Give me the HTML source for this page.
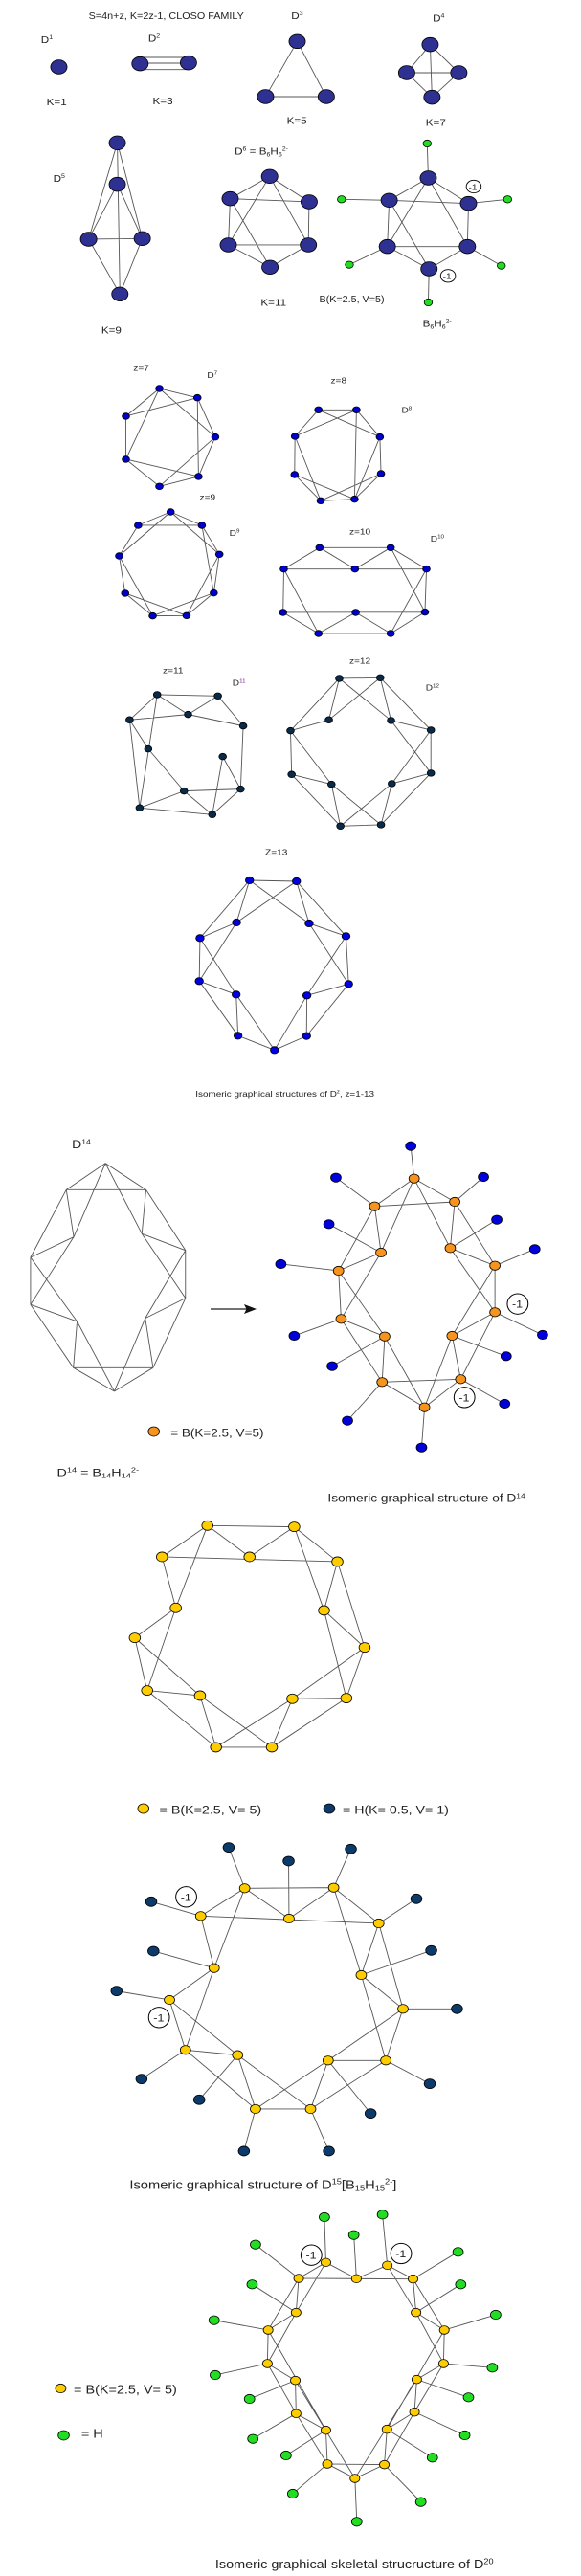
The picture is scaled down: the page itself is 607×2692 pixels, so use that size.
<!DOCTYPE html>
<html><head><meta charset="utf-8"><style>
html,body{margin:0;padding:0;background:#fff;}
svg{display:block;}
circle,path,ellipse{vector-effect:non-scaling-stroke;}
text{font-family:"Liberation Sans",sans-serif;fill:#222;}
.e{fill:none;stroke:#555;stroke-width:0.9;}
.n{stroke:#000;stroke-width:0.8;}
</style></head><body>
<svg width="607" height="2692" viewBox="0 0 607 2692" xmlns="http://www.w3.org/2000/svg">

<!-- CROP 1 -->
<g transform="translate(0,0) scale(0.3891,0.3333)">
<text x="238" y="60" font-size="30" textLength="417" lengthAdjust="spacingAndGlyphs">S=4n+z, K=2z-1, CLOSO FAMILY</text>
<text x="110" y="135" font-size="30">D<tspan font-size="18" dy="-12">1</tspan></text>
<text x="398" y="130" font-size="30">D<tspan font-size="18" dy="-12">2</tspan></text>
<text x="782" y="60" font-size="30">D<tspan font-size="18" dy="-12">3</tspan></text>
<text x="1162" y="68" font-size="30">D<tspan font-size="18" dy="-12">4</tspan></text>
<text x="143" y="570" font-size="30">D<tspan font-size="18" dy="-12">5</tspan></text>
<text x="630" y="485" font-size="30">D<tspan font-size="18" dy="-12">6</tspan><tspan dy="12"> = B</tspan><tspan font-size="18" dy="6">6</tspan><tspan dy="-6">H</tspan><tspan font-size="18" dy="6">6</tspan><tspan font-size="18" dy="-18">2-</tspan></text>
<text x="125" y="330" font-size="30">K=1</text>
<text x="410" y="327" font-size="30">K=3</text>
<text x="770" y="388" font-size="30">K=5</text>
<text x="1143" y="395" font-size="30">K=7</text>
<text x="272" y="1045" font-size="30">K=9</text>
<text x="700" y="958" font-size="30">K=11</text>
<text x="857" y="948" font-size="30" textLength="175" lengthAdjust="spacingAndGlyphs">B(K=2.5, V=5)</text>
<text x="1135" y="1025" font-size="30">B<tspan font-size="18" dy="6">6</tspan><tspan dy="-6">H</tspan><tspan font-size="18" dy="6">6</tspan><tspan font-size="18" dy="-18">2-</tspan></text>
<ellipse cx="1272" cy="585" rx="20" ry="20" fill="#fff" stroke="#000" stroke-width="0.9"/>
<text x="1258" y="595" font-size="26">-1</text>
<ellipse cx="1203" cy="865" rx="20" ry="20" fill="#fff" stroke="#000" stroke-width="0.9"/>
<text x="1189" y="875" font-size="26">-1</text>
<path class="e" d="M376 180L506 180M376 198L506 198M376 218L506 218
M798 130L713 303L876 303Z
M1155 140L1092 228L1160 305L1232 228Z M1092 228L1232 228 M1155 140L1160 305
M315 448L238 750M315 448L382 748M315 448L322 922M315 578L238 750M315 578L382 748M238 750L382 748M238 750L322 922M382 748L322 922
M724 553L618 623L613 768L725 838L828 768L830 633Z M618 623L830 633M613 768L828 768M724 553L613 768M724 553L828 768M618 623L725 838
M1150 558L1045 628L1040 773L1152 843L1255 773L1258 638Z M1045 628L1258 638M1040 773L1255 773M1150 558L1040 773M1150 558L1255 773M1045 628L1152 843
M1150 558L1147 450M1045 628L917 625M1258 638L1363 625M1040 773L938 830M1255 773L1346 833M1152 843L1150 948"/>
<g class="n" fill="#2e3192">
<circle cx="158" cy="210" r="22"/><circle cx="376" cy="200" r="22"/><circle cx="506" cy="197" r="22"/>
<circle cx="798" cy="130" r="22"/><circle cx="713" cy="303" r="22"/><circle cx="876" cy="303" r="22"/>
<circle cx="1155" cy="140" r="22"/><circle cx="1092" cy="228" r="22"/><circle cx="1232" cy="228" r="22"/><circle cx="1160" cy="305" r="22"/>
<circle cx="315" cy="448" r="22"/><circle cx="315" cy="578" r="22"/><circle cx="238" cy="750" r="22"/><circle cx="382" cy="748" r="22"/><circle cx="322" cy="922" r="22"/>
<circle cx="724" cy="553" r="22"/><circle cx="618" cy="623" r="22"/><circle cx="830" cy="633" r="22"/><circle cx="613" cy="768" r="22"/><circle cx="828" cy="768" r="22"/><circle cx="725" cy="838" r="22"/>
<circle cx="1150" cy="558" r="22"/><circle cx="1045" cy="628" r="22"/><circle cx="1258" cy="638" r="22"/><circle cx="1040" cy="773" r="22"/><circle cx="1255" cy="773" r="22"/><circle cx="1152" cy="843" r="22"/>
</g>
<g class="n" fill="#22dd22">
<circle cx="1147" cy="450" r="11"/><circle cx="917" cy="625" r="11"/><circle cx="1363" cy="625" r="11"/><circle cx="938" cy="830" r="11"/><circle cx="1346" cy="833" r="11"/><circle cx="1150" cy="948" r="11"/>
</g>
</g>

<!-- CROP 2 -->
<g transform="translate(0,350) scale(0.3891,0.3333)">
<g font-size="26">
<text x="358" y="112">z=7</text><text x="556" y="135">D<tspan font-size="16" dy="-10">7</tspan></text>
<text x="888" y="152">z=8</text><text x="1078" y="245">D<tspan font-size="16" dy="-10">8</tspan></text>
<text x="536" y="518">z=9</text><text x="616" y="630">D<tspan font-size="16" dy="-10">9</tspan></text>
<text x="938" y="626">z=10</text><text x="1156" y="648">D<tspan font-size="16" dy="-10">10</tspan></text>
<text x="437" y="1060">z=11</text><text x="624" y="1100">D<tspan font-size="16" dy="-10" fill="#6a1a8a">11</tspan></text>
<text x="938" y="1030">z=12</text><text x="1143" y="1115">D<tspan font-size="16" dy="-10">12</tspan></text>
</g>
<path class="e" d="M428 168L530 197M428 168L338 255M338 255L530 197M428 168L578 320M428 168L338 390M530 197L533 444M338 255L338 390M338 390L428 475M428 475L533 444M338 390L533 444M578 320L428 475M578 320L533 444M530 197L578 320
M855 235L957 235M855 235L792 318M957 235L1020 320M792 318L791 438M1020 320L1023 435M791 438L861 520M1023 435L952 515M861 520L952 515M855 235L1020 320M957 235L792 318M792 318L861 520M957 235L952 515M791 438L952 515M1023 435L861 520M1020 320L952 515
M458 555L371 597M458 555L542 597M371 597L320 693M542 597L589 688M320 693L336 810M589 688L574 809M336 810L410 881M574 809L501 880M410 881L501 880M371 597L542 597M458 555L320 693M458 555L589 688M542 597L574 809M320 693L410 881M589 688L501 880M336 810L501 880M574 809L410 881
M858 667L1049 667M858 667L762 734M858 667L953 734L1049 667M1049 667L1145 734M762 734L1145 734M762 734L760 870M1145 734L1141 869M760 870L1141 869M760 870L855 936L955 870L1049 936L1141 869M855 936L1049 936M762 734L855 936M1049 667L1141 869M1145 734L1049 936
M422 1128L585 1132M422 1128L348 1207M422 1128L505 1190L585 1132M348 1207L505 1190L653 1226M585 1132L653 1226M422 1128L375 1483M348 1207L398 1298M348 1207L375 1483M398 1298L494 1430M653 1226L646 1424M598 1322L646 1424M598 1322L570 1504M494 1430L646 1424M494 1430L375 1483M494 1430L570 1504M375 1483L570 1504M646 1424L570 1504
M911 1077L1021 1075M911 1077L883 1207M1021 1075L883 1207M911 1077L1050 1209M1021 1075L1050 1209M911 1077L780 1241M883 1207L780 1241M1021 1075L1157 1239M1050 1209L1157 1239M780 1241L783 1378M1157 1239L1157 1374M780 1241L890 1409M1050 1209L1157 1374M1157 1239L1052 1407M783 1378L890 1409M1157 1374L1052 1407M783 1378L914 1540M890 1409L914 1540M1052 1407L1023 1536M1157 1374L1023 1536M890 1409L1023 1536M1052 1407L914 1540M914 1540L1023 1536"/>
<g class="n" fill="#0000cc">
<circle cx="428" cy="168" r="10"/><circle cx="530" cy="197" r="10"/><circle cx="338" cy="255" r="10"/><circle cx="578" cy="320" r="10"/><circle cx="338" cy="390" r="10"/><circle cx="533" cy="444" r="10"/><circle cx="428" cy="475" r="10"/>
<circle cx="855" cy="235" r="10"/><circle cx="957" cy="235" r="10"/><circle cx="792" cy="318" r="10"/><circle cx="1020" cy="320" r="10"/><circle cx="791" cy="438" r="10"/><circle cx="1023" cy="435" r="10"/><circle cx="861" cy="520" r="10"/><circle cx="952" cy="515" r="10"/>
<circle cx="458" cy="555" r="10"/><circle cx="371" cy="597" r="10"/><circle cx="542" cy="597" r="10"/><circle cx="320" cy="693" r="10"/><circle cx="589" cy="688" r="10"/><circle cx="336" cy="810" r="10"/><circle cx="574" cy="809" r="10"/><circle cx="410" cy="881" r="10"/><circle cx="501" cy="880" r="10"/>
<circle cx="858" cy="667" r="10"/><circle cx="1049" cy="667" r="10"/><circle cx="762" cy="734" r="10"/><circle cx="953" cy="734" r="10"/><circle cx="1145" cy="734" r="10"/><circle cx="760" cy="870" r="10"/><circle cx="955" cy="870" r="10"/><circle cx="1141" cy="869" r="10"/><circle cx="855" cy="936" r="10"/><circle cx="1049" cy="936" r="10"/>
</g>
<g class="n" fill="#0a2a4a">
<circle cx="422" cy="1128" r="10"/><circle cx="585" cy="1132" r="10"/><circle cx="348" cy="1207" r="10"/><circle cx="505" cy="1190" r="10"/><circle cx="653" cy="1226" r="10"/><circle cx="398" cy="1298" r="10"/><circle cx="598" cy="1322" r="10"/><circle cx="494" cy="1430" r="10"/><circle cx="646" cy="1424" r="10"/><circle cx="375" cy="1483" r="10"/><circle cx="570" cy="1504" r="10"/>
<circle cx="911" cy="1077" r="10"/><circle cx="1021" cy="1075" r="10"/><circle cx="883" cy="1207" r="10"/><circle cx="1050" cy="1209" r="10"/><circle cx="780" cy="1241" r="10"/><circle cx="1157" cy="1239" r="10"/><circle cx="783" cy="1378" r="10"/><circle cx="1157" cy="1374" r="10"/><circle cx="890" cy="1409" r="10"/><circle cx="1052" cy="1407" r="10"/><circle cx="914" cy="1540" r="10"/><circle cx="1023" cy="1536" r="10"/>
</g>
</g>

<!-- CROP 3 -->
<g transform="translate(0,800) scale(0.3891,0.3333)">
<text x="712" y="280" font-size="26">Z=13</text>
<text x="525" y="1038" font-size="26" textLength="480" lengthAdjust="spacingAndGlyphs">Isomeric graphical structures of D<tspan font-size="16" dy="-10">z</tspan><tspan dy="10">, z=1-13</tspan></text>
<text x="193" y="1200" font-size="36">D<tspan font-size="22" dy="-14">14</tspan></text>
<path class="e" d="M670 360L796 363M670 360L537 541M670 360L635 492M670 360L830 495M796 363L635 492M796 363L830 495M796 363L929 535M635 492L537 541M635 492L535 676M830 495L929 535M830 495L936 685M537 541L535 676M537 541L634 718M929 535L936 685M929 535L824 721M535 676L634 718M535 676L639 847M936 685L824 721M936 685L823 848M634 718L639 847M634 718L737 892M824 721L823 848M824 721L737 892M639 847L737 892M823 848L737 892"/>
<g class="n" fill="#0000e0">
<circle cx="670" cy="360" r="11"/><circle cx="796" cy="363" r="11"/><circle cx="635" cy="492" r="11"/><circle cx="830" cy="495" r="11"/><circle cx="537" cy="541" r="11"/><circle cx="929" cy="535" r="11"/><circle cx="535" cy="676" r="11"/><circle cx="936" cy="685" r="11"/><circle cx="634" cy="718" r="11"/><circle cx="824" cy="721" r="11"/><circle cx="639" cy="847" r="11"/><circle cx="823" cy="848" r="11"/><circle cx="737" cy="892" r="11"/>
</g>
</g>

<!-- arrow (original coords) -->
<line x1="220" y1="1368" x2="258" y2="1368" stroke="#444" stroke-width="1.6"/>
<path d="M268 1368L255 1363L257.5 1368L255 1373Z" fill="#111"/>

<!-- CROP 4 -->
<g transform="translate(0,1200) scale(0.3891,0.3333)">
<path class="e" stroke="#777" d="M283 47L178 130M283 47L392 130M178 130L392 130M283 47L198 278M283 47L381 268M178 130L198 278M392 130L381 268M178 130L82 342M392 130L498 320M198 278L82 342M381 268L498 320M82 342L82 490M498 320L498 470M198 278L82 490M82 342L207 543M381 268L498 470M498 320L390 533M82 490L207 543M498 470L390 533M82 490L197 688M498 470L411 688M207 543L197 688M390 533L411 688M207 543L307 762M390 533L307 762M197 688L411 688M197 688L307 762M411 688L307 762"/>
<path class="e" d="M1112 95L1006 182M1112 95L1221 168M1006 182L1221 168M1112 95L1023 327M1112 95L1209 313M1006 182L1023 327M1221 168L1209 313M1006 182L909 384M1221 168L1329 368M1023 327L909 384M1209 313L1329 368M909 384L916 535M1329 368L1329 514M1023 327L916 535M909 384L1033 590M1209 313L1329 514M1329 368L1214 588M916 535L1033 590M1329 514L1214 588M916 535L1026 733M1329 514L1237 724M1033 590L1026 733M1214 588L1237 724M1033 590L1140 812M1214 588L1140 812M1026 733L1237 724M1026 733L1140 812M1237 724L1140 812
M1112 95L1103 -7M1006 182L902 92M1221 168L1298 90M1023 327L883 238M1209 313L1334 224M909 384L754 363M1329 368L1436 316M916 535L790 588M1329 514L1457 585M1033 590L892 683M1214 588L1359 652M1026 733L933 854M1237 724L1355 801M1140 812L1132 938"/>
<g class="n" fill="#0000dd">
<circle cx="1103" cy="-7" r="14"/><circle cx="902" cy="92" r="14"/><circle cx="1298" cy="90" r="14"/><circle cx="883" cy="238" r="14"/><circle cx="1334" cy="224" r="14"/><circle cx="754" cy="363" r="14"/><circle cx="1436" cy="316" r="14"/><circle cx="790" cy="588" r="14"/><circle cx="1457" cy="585" r="14"/><circle cx="892" cy="683" r="14"/><circle cx="1359" cy="652" r="14"/><circle cx="933" cy="854" r="14"/><circle cx="1355" cy="801" r="14"/><circle cx="1132" cy="938" r="14"/>
</g>
<g class="n" fill="#f7941d">
<circle cx="1112" cy="95" r="14"/><circle cx="1006" cy="182" r="14"/><circle cx="1221" cy="168" r="14"/><circle cx="1023" cy="327" r="14"/><circle cx="1209" cy="313" r="14"/><circle cx="909" cy="384" r="14"/><circle cx="1329" cy="368" r="14"/><circle cx="916" cy="535" r="14"/><circle cx="1329" cy="514" r="14"/><circle cx="1033" cy="590" r="14"/><circle cx="1214" cy="588" r="14"/><circle cx="1026" cy="733" r="14"/><circle cx="1237" cy="724" r="14"/><circle cx="1140" cy="812" r="14"/>
<circle cx="413" cy="888" r="15"/>
</g>
<ellipse cx="1390" cy="488" rx="28" ry="32" fill="#fff" stroke="#000" stroke-width="1"/>
<text x="1375" y="500" font-size="32">-1</text>
<ellipse cx="1247" cy="781" rx="28" ry="32" fill="#fff" stroke="#000" stroke-width="1"/>
<text x="1232" y="793" font-size="32">-1</text>
<text x="458" y="905" font-size="36" textLength="250" lengthAdjust="spacingAndGlyphs">= B(K=2.5, V=5)</text>
<text x="153" y="1028" font-size="34" textLength="220" lengthAdjust="spacingAndGlyphs">D<tspan font-size="22" dy="-12">14</tspan><tspan dy="12"> = B</tspan><tspan font-size="22" dy="6">14</tspan><tspan dy="-6">H</tspan><tspan font-size="22" dy="6">14</tspan><tspan font-size="22" dy="-18">2-</tspan></text>
<text x="880" y="1108" font-size="36" textLength="530" lengthAdjust="spacingAndGlyphs">Isomeric graphical structure of D<tspan font-size="22" dy="-12">14</tspan></text>
<path class="e" stroke="#333" d="M557 1183L790 1187M557 1183L435 1281M557 1183L670 1281L790 1187M790 1187L906 1296M435 1281L906 1296M557 1183L472 1441M435 1281L472 1441M790 1187L870 1449M906 1296L870 1449M906 1296L979 1565M472 1441L362 1535M472 1441L395 1700M362 1535L395 1700M362 1535L537 1716M870 1449L979 1565M870 1449L930 1724M979 1565L930 1724M979 1565L785 1726M395 1700L537 1716M395 1700L580 1878M537 1716L580 1878M537 1716L730 1878M785 1726L930 1724M785 1726L580 1878M785 1726L730 1878M930 1724L730 1878M580 1878L730 1878"/>
<g class="n" fill="#ffcc00">
<circle cx="557" cy="1183" r="15"/><circle cx="790" cy="1187" r="15"/><circle cx="435" cy="1281" r="15"/><circle cx="670" cy="1281" r="15"/><circle cx="906" cy="1296" r="15"/><circle cx="472" cy="1441" r="15"/><circle cx="870" cy="1449" r="15"/><circle cx="362" cy="1535" r="15"/><circle cx="979" cy="1565" r="15"/><circle cx="395" cy="1700" r="15"/><circle cx="537" cy="1716" r="15"/><circle cx="785" cy="1726" r="15"/><circle cx="930" cy="1724" r="15"/><circle cx="580" cy="1878" r="15"/><circle cx="730" cy="1878" r="15"/>
</g>
</g>

<!-- CROP 5 -->
<g transform="translate(0,1680) scale(0.3891,0.3333)">
<circle class="n" cx="385" cy="630" r="15" fill="#ffcc00"/>
<text x="428" y="647" font-size="36" textLength="274" lengthAdjust="spacingAndGlyphs">= B(K=2.5, V= 5)</text>
<circle class="n" cx="884" cy="630" r="15" fill="#0b3a6b"/>
<text x="920" y="647" font-size="36" textLength="285" lengthAdjust="spacingAndGlyphs">= H(K= 0.5, V= 1)</text>
<path class="e" stroke="#333" d="M657 880L896 878M657 880L539 967M657 880L776 975L896 878M896 878L1017 990M539 967L1017 990M657 880L575 1130M539 967L575 1130M896 878L970 1152M1017 990L970 1152M1017 990L1082 1258M575 1130L455 1230M575 1130L498 1387M455 1230L498 1387M455 1230L638 1403M970 1152L1082 1258M970 1152L1036 1420M1082 1258L1036 1420M1082 1258L881 1420M498 1387L638 1403M498 1387L686 1572M638 1403L686 1572M638 1403L834 1572M881 1420L1036 1420M881 1420L686 1572M881 1420L834 1572M1036 1420L834 1572M686 1572L834 1572
M657 880L614 752M776 975L775 795M896 878L942 757M539 967L406 922M1017 990L1118 913M575 1130L412 1077M970 1152L1158 1075M455 1230L313 1202M1082 1258L1227 1258M498 1387L380 1478M638 1403L535 1543M1036 1420L1154 1493M686 1572L655 1704M834 1572L883 1704M881 1420L995 1586"/>
<g class="n" fill="#0b3a6b">
<circle cx="614" cy="752" r="15"/><circle cx="775" cy="795" r="15"/><circle cx="942" cy="757" r="15"/><circle cx="406" cy="922" r="15"/><circle cx="1118" cy="913" r="15"/><circle cx="412" cy="1077" r="15"/><circle cx="1158" cy="1075" r="15"/><circle cx="313" cy="1202" r="15"/><circle cx="1227" cy="1258" r="15"/><circle cx="380" cy="1478" r="15"/><circle cx="535" cy="1543" r="15"/><circle cx="1154" cy="1493" r="15"/><circle cx="655" cy="1704" r="15"/><circle cx="883" cy="1704" r="15"/><circle cx="995" cy="1586" r="15"/>
</g>
<g class="n" fill="#ffcc00">
<circle cx="657" cy="880" r="14"/><circle cx="896" cy="878" r="14"/><circle cx="539" cy="967" r="14"/><circle cx="776" cy="975" r="14"/><circle cx="1017" cy="990" r="14"/><circle cx="575" cy="1130" r="14"/><circle cx="970" cy="1152" r="14"/><circle cx="455" cy="1230" r="14"/><circle cx="1082" cy="1258" r="14"/><circle cx="498" cy="1387" r="14"/><circle cx="638" cy="1403" r="14"/><circle cx="881" cy="1420" r="14"/><circle cx="1036" cy="1420" r="14"/><circle cx="686" cy="1572" r="14"/><circle cx="834" cy="1572" r="14"/>
</g>
<ellipse cx="500" cy="907" rx="28" ry="32" fill="#fff" stroke="#000" stroke-width="1"/>
<text x="485" y="919" font-size="32">-1</text>
<ellipse cx="427" cy="1285" rx="28" ry="32" fill="#fff" stroke="#000" stroke-width="1"/>
<text x="412" y="1297" font-size="32">-1</text>
</g>

<!-- CROP 6 -->
<g transform="translate(0,2180) scale(0.3891,0.3333)">
<text x="348" y="322" font-size="38" textLength="717" lengthAdjust="spacingAndGlyphs">Isomeric graphical structure of D<tspan font-size="24" dy="-14">15</tspan><tspan dy="14">[B</tspan><tspan font-size="24" dy="6">15</tspan><tspan dy="-6">H</tspan><tspan font-size="24" dy="6">15</tspan><tspan font-size="24" dy="-20">2-</tspan><tspan dy="14">]</tspan></text>
<path class="e" stroke="#333" d="M875 553L957 604L1040 562M802 603L1109 605M875 553L802 603M1040 562L1109 605M875 553L795 710M802 603L795 710M802 603L720 765M795 710L720 765M795 710L718 870M720 765L718 870M720 765L875 1079M718 870L793 923M718 870L795 1027M793 923L795 1027M793 923L953 1230M795 1027L875 1079M795 1027L879 1185M875 1079L879 1185M879 1185L953 1230M879 1185L1032 1187
M1040 562L1117 710M1109 605L1117 710M1109 605L1193 765M1117 710L1193 765M1117 710L1191 870M1193 765L1191 870M1193 765L1039 1076M1191 870L1119 920M1191 870L1113 1022M1119 920L1113 1022M1119 920L953 1230M1113 1022L1039 1076M1113 1022L1032 1187M1039 1076L1032 1187M1032 1187L953 1230
M875 553L871 411M1040 562L1027 403M957 604L950 467M802 603L686 497M1109 605L1230 520M795 710L677 622M1117 710L1237 622M720 765L575 734M1193 765L1331 717M718 870L578 906M1191 870L1322 883M793 923L670 981M1119 920L1258 976M795 1027L679 1106M1113 1022L1248 1095M875 1079L768 1158M1039 1076L1161 1165M879 1185L786 1278M1032 1187L1130 1304M953 1230L958 1366"/>
<g class="n" fill="#22dd22">
<circle cx="871" cy="411" r="14"/><circle cx="1027" cy="403" r="14"/><circle cx="950" cy="467" r="14"/><circle cx="686" cy="497" r="14"/><circle cx="1230" cy="520" r="14"/><circle cx="677" cy="622" r="14"/><circle cx="1237" cy="622" r="14"/><circle cx="575" cy="734" r="14"/><circle cx="1331" cy="717" r="14"/><circle cx="578" cy="906" r="14"/><circle cx="1322" cy="883" r="14"/><circle cx="670" cy="981" r="14"/><circle cx="1258" cy="976" r="14"/><circle cx="679" cy="1106" r="14"/><circle cx="1248" cy="1095" r="14"/><circle cx="768" cy="1158" r="14"/><circle cx="1161" cy="1165" r="14"/><circle cx="786" cy="1278" r="14"/><circle cx="1130" cy="1304" r="14"/><circle cx="958" cy="1366" r="14"/>
<circle cx="171" cy="1095" r="15"/>
</g>
<g class="n" fill="#ffcc00">
<circle cx="875" cy="553" r="13"/><circle cx="1040" cy="562" r="13"/><circle cx="802" cy="603" r="13"/><circle cx="957" cy="604" r="13"/><circle cx="1109" cy="605" r="13"/><circle cx="795" cy="710" r="13"/><circle cx="1117" cy="710" r="13"/><circle cx="720" cy="765" r="13"/><circle cx="1193" cy="765" r="13"/><circle cx="718" cy="870" r="13"/><circle cx="1191" cy="870" r="13"/><circle cx="793" cy="923" r="13"/><circle cx="1119" cy="920" r="13"/><circle cx="795" cy="1027" r="13"/><circle cx="1113" cy="1022" r="13"/><circle cx="875" cy="1079" r="13"/><circle cx="1039" cy="1076" r="13"/><circle cx="879" cy="1185" r="13"/><circle cx="1032" cy="1187" r="13"/><circle cx="953" cy="1230" r="13"/>
<circle cx="163" cy="948" r="14"/>
</g>
<ellipse cx="836" cy="530" rx="28" ry="32" fill="#fff" stroke="#000" stroke-width="1"/>
<text x="821" y="542" font-size="32">-1</text>
<ellipse cx="1077" cy="525" rx="28" ry="32" fill="#fff" stroke="#000" stroke-width="1"/>
<text x="1062" y="537" font-size="32">-1</text>
<text x="198" y="965" font-size="38" textLength="277" lengthAdjust="spacingAndGlyphs">= B(K=2.5, V= 5)</text>
<text x="218" y="1103" font-size="38" textLength="59" lengthAdjust="spacingAndGlyphs">= H</text>
<text x="578" y="1512" font-size="38" textLength="747" lengthAdjust="spacingAndGlyphs">Isomeric graphical skeletal strucructure of D<tspan font-size="24" dy="-14">20</tspan></text>
</g>
</svg>
</body></html>
